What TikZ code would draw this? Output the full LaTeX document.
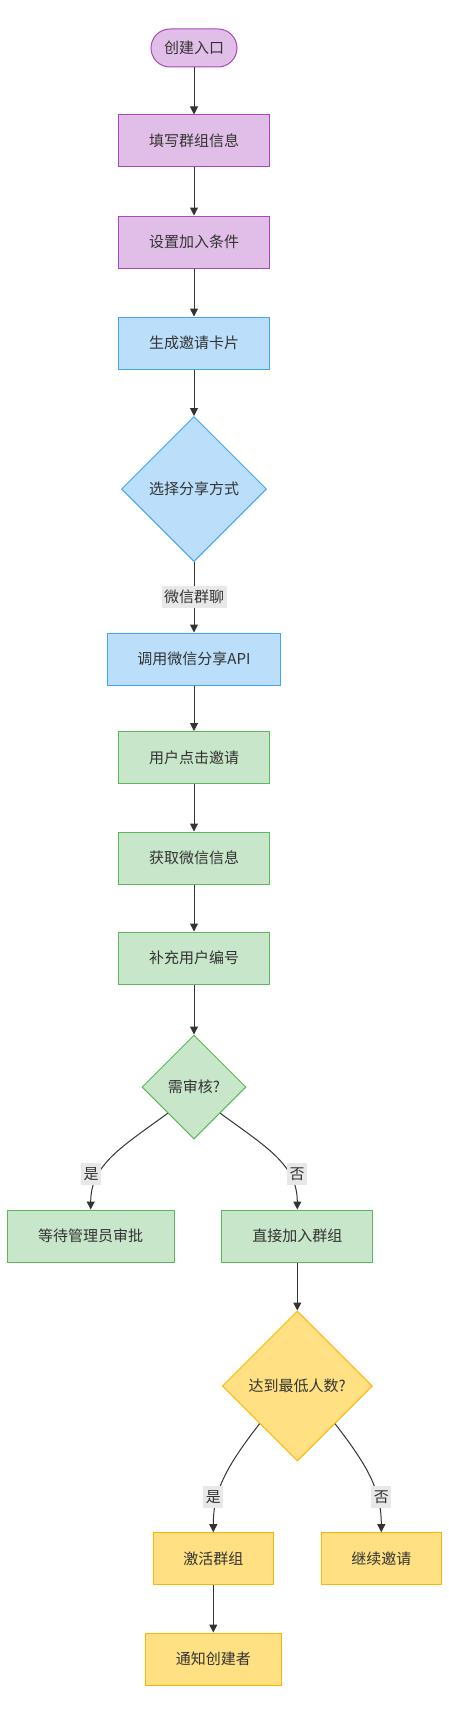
\documentclass[tikz,border=0pt]{standalone}
\usepackage{fontspec}
\newfontfamily\cjk{Noto Sans CJK SC}
\usetikzlibrary{shapes.geometric,arrows.meta,calc}
\definecolor{purF}{HTML}{E1BEE7}
\definecolor{purD}{HTML}{AB47BC}
\definecolor{bluF}{HTML}{BBDEFB}
\definecolor{bluD}{HTML}{42A5F5}
\definecolor{grnF}{HTML}{C8E6C9}
\definecolor{grnD}{HTML}{5CB85C}
\definecolor{yelF}{HTML}{FFE082}
\definecolor{yelD}{HTML}{FFB300}
\definecolor{txt}{HTML}{333333}
\definecolor{lblF}{HTML}{E8E8E8}
\begin{document}
\begin{tikzpicture}[x=1pt,y=-1pt,
  font=\cjk\fontsize{15}{18}\selectfont,
  base/.style={draw, line width=1pt, inner sep=0pt, text=txt},
  box/.style={base, rectangle, minimum height=52pt},
  dia/.style={base, diamond, aspect=1},
  pur/.style={fill=purF, draw=purD},
  blu/.style={fill=bluF, draw=bluD},
  grn/.style={fill=grnF, draw=grnD},
  yel/.style={fill=yelF, draw=yelD},
  edge/.style={draw=txt, line width=1pt, -{Triangle[length=8pt,width=8pt]}},
  lbl/.style={fill=lblF, text=txt, inner sep=2.5pt, minimum height=22pt}
]
\useasboundingbox (0,0) rectangle (449,1715);
\fill[white] (0,0) rectangle (449,1715);

\node[base, pur, rectangle, rounded corners=19pt, minimum width=86pt, minimum height=38pt] (start) at (194,48) {创建入口};
\node[box, pur, minimum width=151pt] (fill) at (194,141) {填写群组信息};
\node[box, pur, minimum width=151pt] (cond) at (194,242) {设置加入条件};
\node[box, blu, minimum width=151pt] (card) at (194,343) {生成邀请卡片};
\node[dia, blu, minimum width=145pt, minimum height=145pt] (share) at (194,489) {选择分享方式};
\node[box, blu, minimum width=173pt] (api) at (194,659) {调用微信分享API};
\node[box, grn, minimum width=151pt] (click) at (194,757.5) {用户点击邀请};
\node[box, grn, minimum width=151pt] (info) at (194,858) {获取微信信息};
\node[box, grn, minimum width=151pt] (num) at (194,958) {补充用户编号};
\node[dia, grn, minimum width=104pt, minimum height=104pt] (rev) at (194,1087) {需审核?};
\node[box, grn, minimum width=167pt] (wait) at (90.7,1236) {等待管理员审批};
\node[box, grn, minimum width=151pt] (join) at (297.3,1236) {直接加入群组};
\node[dia, yel, minimum width=150pt, minimum height=150pt] (min) at (297.3,1386) {达到最低人数?};
\node[box, yel, minimum width=120pt] (act) at (213.3,1558.7) {激活群组};
\node[box, yel, minimum width=120pt] (cont) at (381.3,1558.7) {继续邀请};
\node[box, yel, minimum width=136pt] (notify) at (213.3,1659) {通知创建者};

\draw[edge] (start.south) -- (fill.north);
\draw[edge] (fill.south) -- (cond.north);
\draw[edge] (cond.south) -- (card.north);
\draw[edge] (card.south) -- (share.north);
\draw[edge] (share.south) -- (api.north);
\draw[edge] (api.south) -- (click.north);
\draw[edge] (click.south) -- (info.north);
\draw[edge] (info.south) -- (num.north);
\draw[edge] (num.south) -- (rev.north);
\draw[edge] ($(rev.south)!0.5!(rev.west)$) .. controls +(-45,33) and +(0,-45) .. (wait.north);
\draw[edge] ($(rev.south)!0.5!(rev.east)$) .. controls +(45,33) and +(0,-45) .. (join.north);
\draw[edge] (join.south) -- (min.north);
\draw[edge] ($(min.south)!0.5!(min.west)$) .. controls +(-35,45) and +(0,-40) .. (act.north);
\draw[edge] ($(min.south)!0.5!(min.east)$) .. controls +(35,45) and +(0,-40) .. (cont.north);
\draw[edge] (act.south) -- (notify.north);

\node[lbl] (l1) at (194,597) {微信群聊};
\node[lbl] (l2) at (91,1174) {是};
\node[lbl] (l3) at (297,1174) {否};
\node[lbl] (l4) at (213.3,1497) {是};
\node[lbl] (l5) at (381.3,1497) {否};
\end{tikzpicture}
\end{document}
